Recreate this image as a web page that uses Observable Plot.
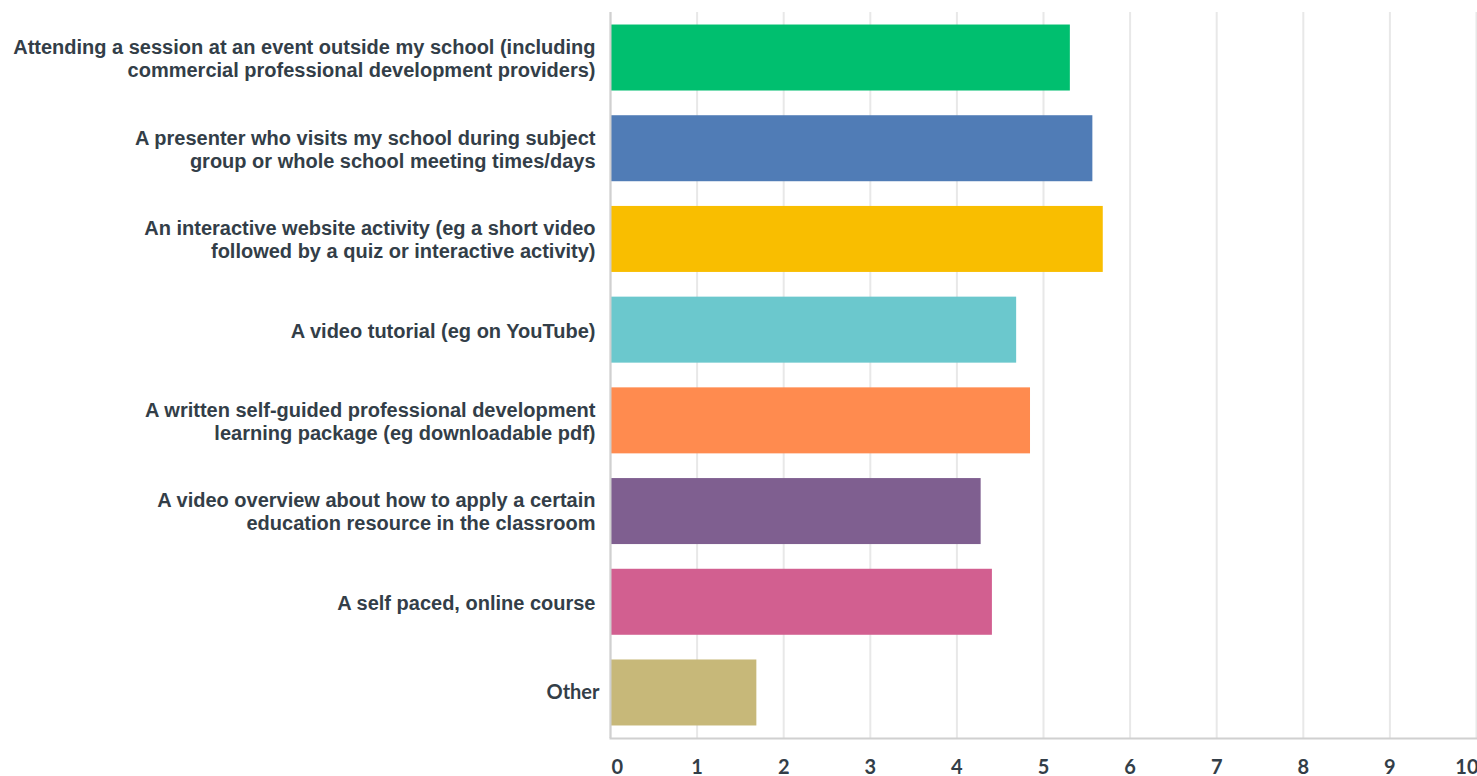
<!DOCTYPE html>
<html>
<head>
<meta charset="utf-8">
<script src="https://cdn.jsdelivr.net/npm/d3@7"></script>
<script src="https://cdn.jsdelivr.net/npm/@observablehq/plot@0.6"></script>
<style>
  html, body { margin: 0; padding: 0; background: #fff; }
  #chart svg { display: block; }
</style>
</head>
<body>
<div id="chart"></div>
<script>
const categories = [
  "Attending a session at an event outside my school (including\ncommercial professional development providers)",
  "A presenter who visits my school during subject\ngroup or whole school meeting times/days",
  "An interactive website activity (eg a short video\nfollowed by a quiz or interactive activity)",
  "A video tutorial (eg on YouTube)",
  "A written self-guided professional development\nlearning package (eg downloadable pdf)",
  "A video overview about how to apply a certain\neducation resource in the classroom",
  "A self paced, online course",
  "Other"
];
const values = [5.31, 5.57, 5.69, 4.69, 4.85, 4.28, 4.41, 1.69];
const colors = ["#00BF6F", "#507CB6", "#F9BE00", "#6BC8CD", "#FF8B4F", "#7F5F90", "#D25F90", "#C7B879"];
const xTicks = [0, 1, 2, 3, 4, 5, 6, 7, 8, 9, 10];

const data = categories.map((c, i) => ({category: c, value: values[i], color: colors[i]}));

const tickStyle = {
  tickSize: 0, tickPadding: 21, fontSize: 20, fontWeight: "bold",
  fontFamily: "Lato, sans-serif", fill: "#333e48", label: null
};

const chart = Plot.plot({
  width: 1477,
  height: 776,
  marginTop: 12,
  marginBottom: 38,
  marginLeft: 610,
  marginRight: 1,
  style: {background: "#fff", overflow: "visible"},
  x: {domain: [0, 10], ticks: xTicks},
  y: {domain: categories, paddingInner: 0.2724, paddingOuter: 0.138, round: false},
  marks: [
    Plot.gridX(xTicks, {stroke: "#e8e8e8", strokeOpacity: 1, strokeWidth: 2}),
    Plot.barX(data, {x: "value", y: "category", fill: "color"}),
    Plot.ruleX([0], {stroke: "#d0d0d0", strokeWidth: 2}),
    Plot.frame({anchor: "bottom", stroke: "#d0d0d0", strokeWidth: 2}),
    Plot.axisY(categories.slice(0, -1), {
      tickSize: 0, tickPadding: 15, fontSize: 20, fontWeight: "bold",
      fontFamily: "Liberation Sans, Arial, sans-serif", fill: "#333e48",
      lineHeight: 1.15, label: null
    }),
    Plot.axisY(categories.slice(-1), {
      tickSize: 0, tickPadding: 11, fontSize: 20, fontWeight: "bold",
      fontFamily: "Lato, sans-serif", fill: "#333e48", label: null
    }),
    Plot.axisX(xTicks.slice(0, 1), {...tickStyle, textAnchor: "start", dx: 1}),
    Plot.axisX(xTicks.slice(1, -1), tickStyle),
    Plot.axisX(xTicks.slice(-1), {...tickStyle, textAnchor: "end", dx: 2})
  ]
});
document.getElementById("chart").appendChild(chart);
</script>
</body>
</html>
